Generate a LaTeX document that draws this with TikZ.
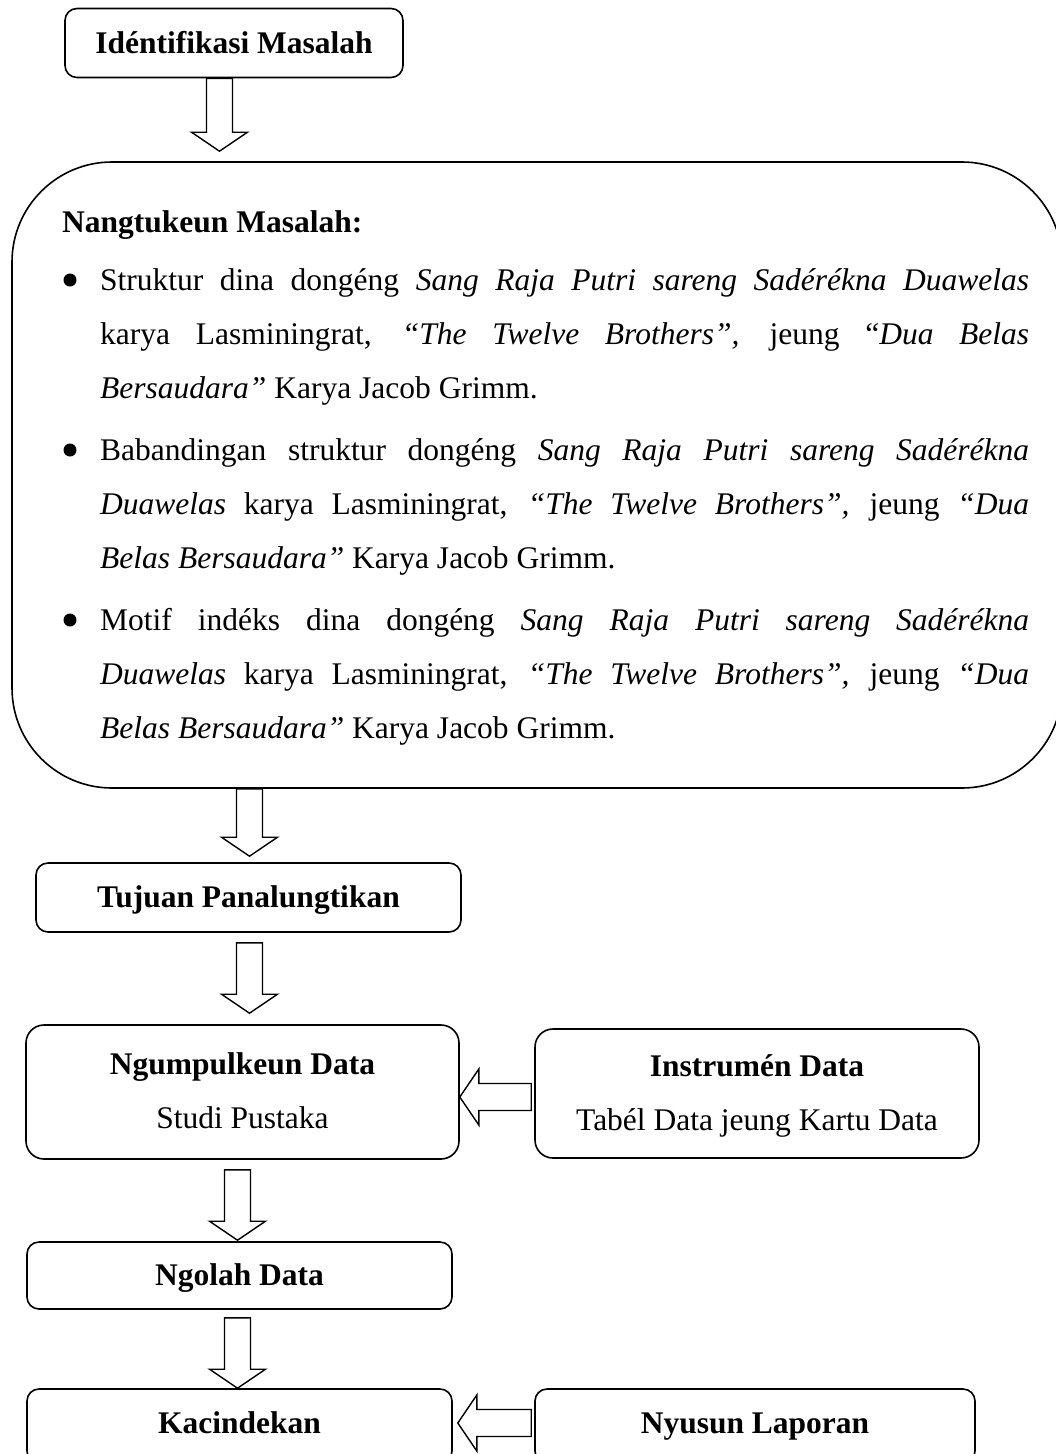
\documentclass[tikz,border=0pt]{standalone}
\usepackage{fontspec}
\setmainfont{Liberation Serif}
\usetikzlibrary{calc}
\newcommand\vblk[5]{%
 \draw[blk] ($(#1 |- #2.south)+(-13,#4)$)
  -- ($(#1 |- #3.north)+(-13,-19-#5)$)
  -- ($(#1 |- #3.north)+(-28,-19-#5)$)
  -- ($(#1 |- #3.north)+(0,-#5)$)
  -- ($(#1 |- #3.north)+(28,-19-#5)$)
  -- ($(#1 |- #3.north)+(13,-19-#5)$)
  -- ($(#1 |- #2.south)+(13,#4)$) -- cycle;}
\newcommand\hblk[5]{%
 \draw[blk] ($(#1 -| #2.west)+(-#4,-13.5)$)
  -- ($(#1 -| #3.east)+(19+#5,-13.5)$)
  -- ($(#1 -| #3.east)+(19+#5,-28)$)
  -- ($(#1 -| #3.east)+(#5,0)$)
  -- ($(#1 -| #3.east)+(19+#5,28)$)
  -- ($(#1 -| #3.east)+(19+#5,13.5)$)
  -- ($(#1 -| #2.west)+(-#4,13.5)$) -- cycle;}
\begin{document}
\begin{tikzpicture}[x=1pt,y=-1pt,
  every node/.style={font=\fontsize{31.5}{54}\selectfont, inner sep=0pt},
  box/.style={draw, line width=1.6pt, rounded corners=12pt, text height=20.8pt, text depth=0pt},
  bigbox/.style={draw, line width=1.6pt, rounded corners=18pt},
  blk/.style={draw, line width=1.4pt, fill=white, line join=miter},
  item/.style={anchor=base west, text width=929pt, align=justify,
    execute at begin node={\hyphenpenalty=10000\exhyphenpenalty=10000\tolerance=10000\emergencystretch=20pt}},
]
\useasboundingbox (0,0) rectangle (1056,1454);
\clip (0,0) rectangle (1056,1454);

% boxes
\node[box, minimum width=338, minimum height=69] (idn) at (234,43) {\textbf{Idéntifikasi Masalah}};
\node[draw, line width=1.6pt, rounded corners=100pt, minimum width=1050, minimum height=626] (big) at (537,475) {};
\node[box, minimum width=425, minimum height=69] (tuj) at (248.5,897.5) {\textbf{Tujuan Panalungtikan}};
\node[bigbox, minimum width=433, minimum height=134] (ngum) at (242.5,1092) {};
\node[bigbox, minimum width=444, minimum height=129] (inst) at (757,1093.5) {};
\node[box, minimum width=425, minimum height=67] (ngol) at (239.5,1275.5) {\textbf{Ngolah Data}};
\node[box, minimum width=425, minimum height=74] (kac) at (239.5,1426) {};
\node[box, minimum width=440, minimum height=74] (nyu) at (755,1426) {};

% box texts placed by baseline
\node[anchor=base] (ngumt) at (242.5,1074) {\textbf{Ngumpulkeun Data}};
\node[anchor=base] (ngums) at (242.5,1128) {Studi Pustaka};
\node[anchor=base] (instt) at (757,1076) {\textbf{Instrumén Data}};
\node[anchor=base] (insts) at (757,1130) {Tabél Data jeung Kartu Data};
\node[anchor=base] (kact) at (239.5,1433) {\textbf{Kacindekan}};
\node[anchor=base] (nyut) at (755,1433) {\textbf{Nyusun Laporan}};

% big box content
\node[anchor=base west] (title) at (62,232) {\textbf{Nangtukeun Masalah:}};
\fill (70,280) circle (6.5);
\fill (70,450) circle (6.5);
\fill (70,620) circle (6.5);
\node[item] (it1) at (100,290) {Struktur dina dongéng \textit{Sang Raja Putri sareng Sadérékna Duawelas}\linebreak
karya Lasminingrat, \textit{“The Twelve Brothers”,} jeung “\textit{Dua Belas}\linebreak
\textit{Bersaudara”} Karya Jacob Grimm.};
\node[item] (it2) at (100,460) {Babandingan struktur dongéng \textit{Sang Raja Putri sareng Sadérékna}\linebreak
\textit{Duawelas} karya Lasminingrat, \textit{“The Twelve Brothers”,} jeung \textit{“Dua}\linebreak
\textit{Belas Bersaudara”} Karya Jacob Grimm.};
\node[item] (it3) at (100,630) {Motif indéks dina dongéng \textit{Sang Raja Putri sareng Sadérékna}\linebreak
\textit{Duawelas} karya Lasminingrat, \textit{“The Twelve Brothers”,} jeung \textit{“Dua}\linebreak
\textit{Belas Bersaudara”} Karya Jacob Grimm.};

% arrow axes
\coordinate (ax1) at (219.5,0);
\coordinate (ax2) at (249.5,0);
\coordinate (ax4) at (237.5,0);
\coordinate (hy1) at (0,1097);
\coordinate (hy2) at (0,1423);

% block arrows
\vblk{ax1}{idn}{big}{0}{10}
\vblk{ax2}{big}{tuj}{0}{6}
\vblk{ax2}{tuj}{ngum}{10}{11}
\vblk{ax4}{ngum}{ngol}{10}{1}
\vblk{ax4}{ngol}{kac}{8}{0}
\hblk{hy1}{inst}{ngum}{3}{0}
\hblk{hy2}{nyu}{kac}{3}{5}
\end{tikzpicture}
\end{document}
